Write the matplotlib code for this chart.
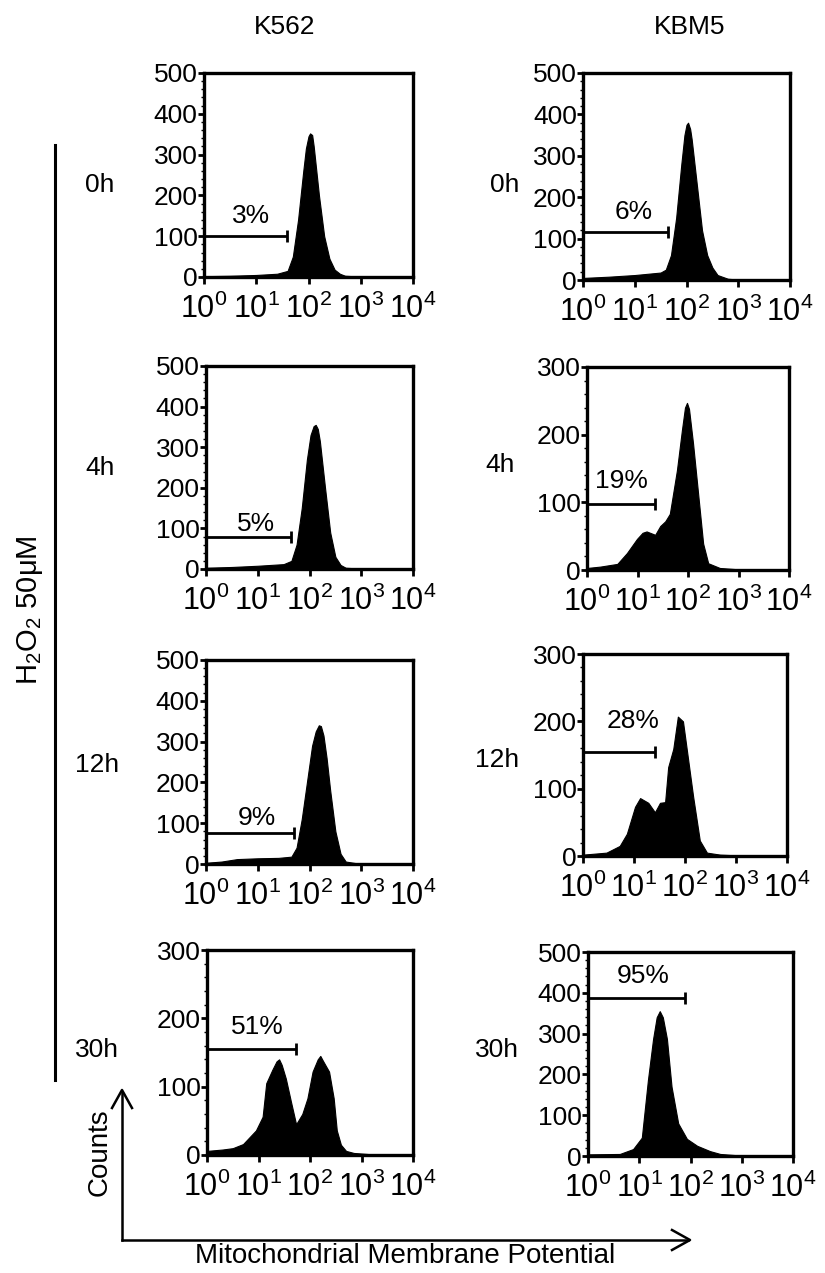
import numpy as np
import matplotlib
matplotlib.use("Agg")
import matplotlib.pyplot as plt
from matplotlib import font_manager
from matplotlib.ticker import FixedLocator, NullFormatter, LogLocator

names = {f.name for f in font_manager.fontManager.ttflist}
NARROW = "Liberation Sans Narrow" if "Liberation Sans Narrow" in names else "Liberation Sans"
plt.rcParams["font.family"] = ["Liberation Sans", "DejaVu Sans"]
plt.rcParams["mathtext.fontset"] = "custom"
plt.rcParams["mathtext.rm"] = NARROW
plt.rcParams["mathtext.it"] = NARROW

# ---------------- data (x in log10 decades, y in counts) ----------------
cell_lines = ["K562", "KBM5"]
time_points = ["0h", "4h", "12h", "30h"]
x_tick_labels = [r"$10^{0}$", r"$10^{1}$", r"$10^{2}$", r"$10^{3}$", r"$10^{4}$"]

k562_0h_x = [0, 0.5, 1.0, 1.4, 1.6, 1.7, 1.8, 1.85, 1.9, 1.95, 2.0, 2.03, 2.07, 2.1, 2.15, 2.2, 2.3, 2.4, 2.5, 2.6, 2.7, 3.0, 4.0]
k562_0h_y = [2, 3, 5, 8, 15, 50, 140, 200, 260, 315, 345, 352, 348, 320, 260, 200, 100, 45, 18, 8, 3, 1, 0]
k562_4h_x = [0, 0.5, 1.0, 1.5, 1.65, 1.75, 1.85, 1.95, 2.02, 2.08, 2.12, 2.16, 2.2, 2.3, 2.4, 2.5, 2.6, 2.7, 3.0, 4.0]
k562_4h_y = [3, 5, 8, 12, 20, 60, 150, 270, 330, 352, 355, 345, 315, 200, 90, 30, 10, 3, 1, 0]
k562_12h_x = [0, 0.3, 0.6, 1.0, 1.4, 1.65, 1.75, 1.85, 1.95, 2.05, 2.12, 2.18, 2.22, 2.27, 2.33, 2.4, 2.5, 2.6, 2.7, 2.9, 4.0]
k562_12h_y = [3, 6, 12, 14, 15, 18, 40, 110, 200, 290, 325, 340, 338, 315, 260, 180, 80, 25, 6, 2, 0]
k562_30h_x = [0, 0.3, 0.5, 0.7, 0.95, 1.08, 1.15, 1.27, 1.35, 1.4, 1.45, 1.53, 1.63, 1.73, 1.85, 1.95, 2.05, 2.15, 2.2, 2.25, 2.37, 2.46, 2.52, 2.6, 2.7, 2.85, 3.2, 4.0]
k562_30h_y = [6, 8, 10, 16, 36, 56, 105, 125, 137, 140, 132, 112, 78, 45, 60, 83, 122, 140, 145, 138, 122, 83, 36, 15, 6, 3, 1, 0]

kbm5_0h_x = [0, 0.5, 1.0, 1.5, 1.6, 1.7, 1.8, 1.9, 1.96, 2.0, 2.03, 2.07, 2.1, 2.2, 2.3, 2.4, 2.5, 2.6, 2.8, 3.0, 4.0]
kbm5_0h_y = [5, 8, 12, 18, 25, 60, 150, 280, 350, 375, 380, 365, 340, 230, 120, 60, 30, 12, 3, 1, 0]
kbm5_4h_x = [0, 0.26, 0.6, 0.79, 0.99, 1.1, 1.18, 1.35, 1.45, 1.55, 1.64, 1.78, 1.88, 1.94, 1.98, 2.02, 2.1, 2.2, 2.3, 2.4, 2.63, 3.0, 4.0]
kbm5_4h_y = [3, 5, 9, 25, 46, 55, 57, 52, 65, 72, 83, 147, 207, 240, 247, 238, 187, 113, 39, 10, 3, 1, 0]
kbm5_12h_x = [0, 0.46, 0.72, 0.86, 1.02, 1.12, 1.28, 1.41, 1.51, 1.61, 1.67, 1.77, 1.86, 1.96, 2.06, 2.16, 2.29, 2.43, 2.69, 3.0, 4.0]
kbm5_12h_y = [2, 5, 15, 33, 73, 86, 79, 65, 79, 80, 132, 159, 207, 200, 144, 88, 23, 5, 2, 1, 0]
kbm5_30h_x = [0, 0.62, 0.88, 1.05, 1.17, 1.27, 1.34, 1.4, 1.46, 1.54, 1.63, 1.76, 1.93, 2.13, 2.38, 2.58, 3.0, 4.0]
kbm5_30h_y = [4, 5, 17, 45, 187, 287, 340, 355, 340, 287, 170, 80, 42, 25, 12, 5, 1, 0]

# gate: percentage, gate end (log10), gate height, label x (log10), label y
gate_pct = [["3%", "5%", "9%", "51%"], ["6%", "19%", "28%", "95%"]]
gate_end = [[1.58, 1.65, 1.71, 1.73], [1.64, 1.35, 1.41, 1.89]]
gate_y = [[100, 80, 75, 155], [115, 97, 155, 387]]
label_x = [[0.9, 0.96, 0.98, 0.98], [0.97, 0.69, 0.98, 1.07]]
label_y = [[150, 112, 112, 187], [165, 132, 200, 442]]
y_max = [[500, 500, 500, 300], [500, 300, 300, 500]]

hist = [[(k562_0h_x, k562_0h_y), (k562_4h_x, k562_4h_y), (k562_12h_x, k562_12h_y), (k562_30h_x, k562_30h_y)],
        [(kbm5_0h_x, kbm5_0h_y), (kbm5_4h_x, kbm5_4h_y), (kbm5_12h_x, kbm5_12h_y), (kbm5_30h_x, kbm5_30h_y)]]

# ---------------- layout (pixels) ----------------
W, H = 825, 1273
fig = plt.figure(figsize=(W / 100, H / 100), dpi=100)

def fx(x):
    return x / W

def fy(y):
    return 1 - y / H

boxes = [[(204, 413, 73, 277), (206, 413, 366, 569), (206, 413, 660, 864), (207, 413, 950, 1155)],
         [(583, 790, 73, 280), (587, 789, 367, 570), (583, 787, 654, 856), (588, 793, 952, 1156)]]

for c in range(2):
    for r in range(4):
        x0, x1, y0, y1 = boxes[c][r]
        ax = fig.add_axes([fx(x0), fy(y1), (x1 - x0) / W, (y1 - y0) / H])
        xs, ys = hist[c][r]
        xv = np.power(10.0, np.array(xs))
        ax.fill_between(xv, 0, ys, color="black", lw=0.8, edgecolor="black")
        ax.set_xscale("log")
        ax.set_xlim(1, 1e4)
        ax.set_ylim(0, y_max[c][r])
        ax.xaxis.set_major_locator(FixedLocator([1, 10, 100, 1000, 10000]))
        ax.set_xticklabels(x_tick_labels)
        ax.xaxis.set_minor_locator(LogLocator(base=10, subs=np.arange(2, 10)))
        ax.xaxis.set_minor_formatter(NullFormatter())
        ax.set_yticks(np.arange(0, y_max[c][r] + 1, 100))
        ax.set_yticks(np.arange(0, y_max[c][r] + 1, 20), minor=True)
        for s in ax.spines.values():
            s.set_linewidth(2.4)
        ax.tick_params(axis="x", which="major", direction="out", length=5, width=2,
                       labelsize=22, pad=7)
        ax.tick_params(axis="x", which="minor", direction="out", length=2.5, width=1.2)
        ax.tick_params(axis="y", which="major", direction="out", length=4, width=2,
                       labelsize=19, pad=0.5)
        ax.tick_params(axis="y", which="minor", direction="out", length=2, width=1)
        # gate
        ge = 10 ** gate_end[c][r]
        gy = gate_y[c][r]
        ax.plot([1, ge], [gy, gy], color="black", lw=2, clip_on=False, solid_capstyle="butt")
        ax.plot([ge], [gy], marker="|", markersize=9, markeredgewidth=2, color="black")
        ax.text(10 ** label_x[c][r], label_y[c][r], gate_pct[c][r], ha="center", va="center",
                fontsize=19)

# column titles
fig.text(fx(285), fy(27), cell_lines[0], ha="center", va="center", fontsize=19)
fig.text(fx(690), fy(27), cell_lines[1], ha="center", va="center", fontsize=19)

# row labels
row_label_pos = [[(100, 185), (100, 468), (97, 765), (97, 1050)],
                 [(505, 185), (500, 465), (497, 760), (497, 1050)]]
for c in range(2):
    for r in range(4):
        x, y = row_label_pos[c][r]
        fig.text(fx(x), fy(y), time_points[r], ha="center", va="center", fontsize=19)

# treatment bar and label
fig.add_artist(plt.Line2D([fx(55), fx(55)], [fy(145), fy(1080)], color="black", lw=2.2))
fig.text(fx(30), fy(610), r"H$_2$O$_2$ 50μM", rotation=90, ha="center", va="center", fontsize=21)

# axis arrows
fig.add_artist(plt.Line2D([fx(122), fx(122)], [fy(1240), fy(1092)], color="black", lw=1.8))
fig.add_artist(plt.Line2D([fx(122), fx(688)], [fy(1240), fy(1240)], color="black", lw=1.8))
fig.add_artist(plt.Line2D([fx(112), fx(122), fx(132)], [fy(1108), fy(1090), fy(1108)], color="black", lw=1.8))
fig.add_artist(plt.Line2D([fx(672), fx(690), fx(672)], [fy(1230), fy(1240), fy(1250)], color="black", lw=1.8))
fig.text(fx(100), fy(1152), "Counts", rotation=90, ha="center", va="center", fontsize=20)
fig.text(fx(405), fy(1256), "Mitochondrial Membrane Potential", ha="center", va="center", fontsize=20)

fig.savefig("out.png", dpi=100)
